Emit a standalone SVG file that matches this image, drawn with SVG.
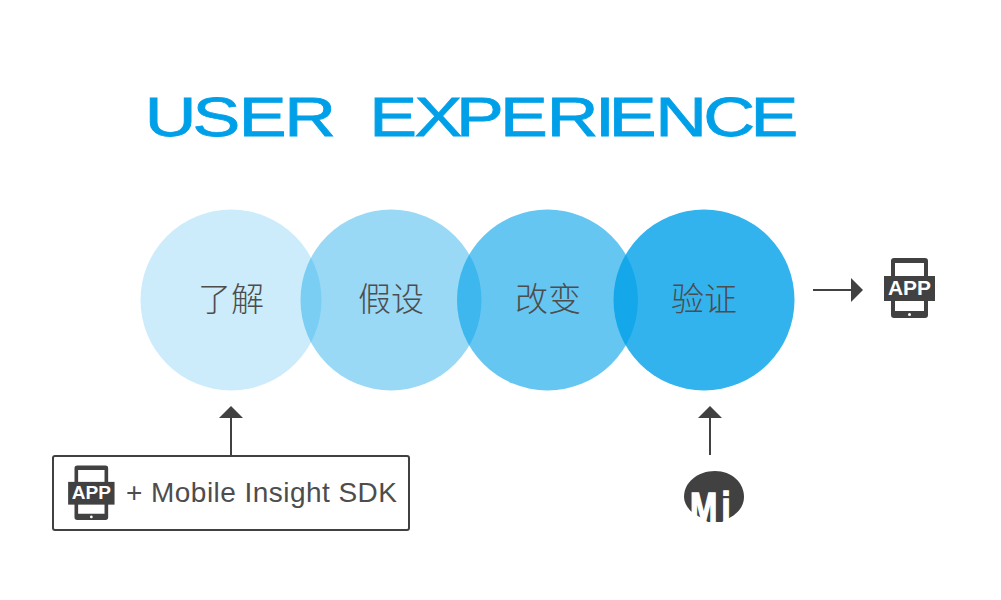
<svg xmlns="http://www.w3.org/2000/svg" width="1001" height="600" viewBox="0 0 1001 600">
<style>
.t{font-family:"Liberation Sans",Arial,sans-serif;font-size:56px;fill:#00a0e9;stroke:#00a0e9;stroke-width:0.8}
.c{font-family:"Noto Sans CJK SC","Liberation Sans",sans-serif;font-size:33px;font-weight:300;fill:#4d4d4d;text-anchor:middle}
.circ{fill:#00a0e9}
.ln{stroke:#414141;stroke-width:2;fill:none}
.ah{fill:#414141}
.app{font-family:"Liberation Sans",Arial,sans-serif;font-weight:bold;fill:#fff;text-anchor:middle}
.mi{font-family:"Liberation Sans",Arial,sans-serif;font-weight:bold;font-size:42px;fill:#fff;stroke:#fff;stroke-width:1.5}
</style>
<defs>
<g id="phone">
<path fill="#414141" fill-rule="evenodd" d="M3 0H34Q37 0 37 3V57Q37 60 34 60H3Q0 60 0 57V3Q0 0 3 0ZM4 5V53H33V5Z"/>
<circle cx="18.500" cy="56.500" r="1.500" fill="#fff"/>
<rect x="-7" y="18" width="51" height="25" fill="#414141"/>
<text class="app" x="18.500" y="37" font-size="20" textLength="43" lengthAdjust="spacingAndGlyphs">APP</text>
</g>
</defs>
<g id="title" transform="translate(0,136.400) scale(1.28,1)">
<text class="t" x="113 150.500 186.600 222" y="0">USER</text>
<text class="t" x="288.400 323.800 356.200 390.700 427.200 464.800 475.600 511.900 549.400 586.400" y="0">EXPERIENCE</text>
</g>
<g id="node-liaojie"><circle class="circ" cx="231" cy="300" r="90.500" opacity="0.2"/></g>
<g id="node-jiashe"><circle class="circ" cx="391" cy="300" r="90.500" opacity="0.4"/></g>
<g id="node-gaibian"><circle class="circ" cx="547.500" cy="300" r="90.500" opacity="0.6"/></g>
<g id="node-yanzheng"><circle class="circ" cx="704" cy="300" r="90.500" opacity="0.8"/></g>
<g id="labels">
<text class="c" x="231" y="311">了解</text>
<text class="c" x="391" y="311">假设</text>
<text class="c" x="548" y="311">改变</text>
<text class="c" x="704" y="311">验证</text>
</g>
<g id="connectors">
<path class="ln" d="M231 418V456"/><path class="ah" d="M219 418L231 406L243 418Z"/>
<path class="ln" d="M710 418V455"/><path class="ah" d="M698 418L710 406L722 418Z"/>
<path class="ln" d="M813 290H851"/><path class="ah" d="M851 278L863 290L851 302Z"/>
</g>
<g id="node-sdk">
<rect x="53" y="456" width="356" height="74" rx="2" fill="#fff" stroke="#414141" stroke-width="2"/>
<use href="#phone" transform="translate(74.500,465.500) scale(0.91)"/>
<text x="126" y="502" font-family="'Liberation Sans',Arial,sans-serif" font-size="28" fill="#4d4d4d" textLength="271">+ Mobile Insight SDK</text>
</g>
<g id="node-app"><use href="#phone" transform="translate(891,258)"/></g>
<g id="node-mi">
<path fill="#414141" d="M684 497C684 482 698 471 715 471C732 471 744 483 744 497C744 506 738 513 731 517L722 522H708L693 513C688 509 684 503 684 497Z"/>
<text class="mi" transform="translate(0,522) scale(0.78,1)" x="884.600 925" y="0">Mi</text>
</g>
</svg>
